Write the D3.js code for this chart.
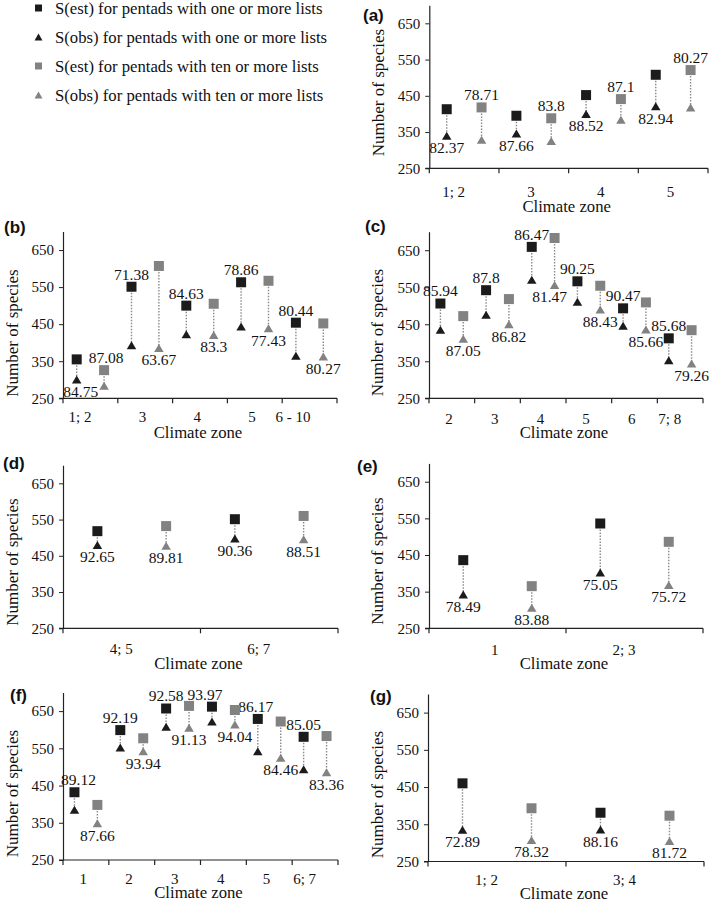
<!DOCTYPE html>
<html><head><meta charset="utf-8">
<script src="https://cdn.jsdelivr.net/npm/d3@7"></script>
<style>body{margin:0;background:#fff}svg{display:block}
.serif{font-family:"Liberation Serif","DejaVu Serif",serif}
.sans{font-family:"Liberation Sans","DejaVu Sans",sans-serif}
</style>
</head><body><svg id="chart" width="709" height="900"></svg>
<script>
// ---------- DATA ----------
const legendLabels = [
  "S(est) for pentads with one or more lists",
  "S(obs) for pentads with one or more lists",
  "S(est) for pentads with ten or more lists",
  "S(obs) for pentads with ten or more lists"
];
const yTickValues = [250, 350, 450, 550, 650];

const catsA = ["1; 2", "3", "4", "5"];
const estOneA = [413, 395, 452, 508];
const obsOneA = [340, 346, 400, 421];
const estTenA = [418, 388, 441, 521];
const obsTenA = [329, 325, 384, 418];
const pctOneA = ["82.37", "87.66", "88.52", "82.94"];
const pctTenA = ["78.71", "83.8", "87.1", "80.27"];

const catsB = ["1; 2", "3", "4", "5", "6 - 10"];
const estOneB = [355, 551, 500, 563, 454];
const obsOneB = [301, 393, 423, 444, 365];
const estTenB = [326, 607, 505, 567, 452];
const obsTenB = [284, 386, 421, 439, 363];
const pctOneB = ["84.75", "71.38", "84.63", "78.86", "80.44"];
const pctTenB = ["87.08", "63.67", "83.3", "77.43", "80.27"];

const catsC = ["2", "3", "4", "5", "6", "7; 8"];
const estOneC = [506, 542, 659, 566, 493, 412];
const obsOneC = [435, 476, 570, 511, 446, 353];
const estTenC = [472, 518, 683, 554, 509, 434];
const obsTenC = [411, 450, 556, 490, 436, 344];
const pctOneC = ["85.94", "87.8", "86.47", "90.25", "90.47", "85.68"];
const pctTenC = ["87.05", "86.82", "81.47", "88.43", "85.66", "79.26"];

const catsD = ["4; 5", "6; 7"];
const estOneD = [518, 551];
const obsOneD = [480, 498];
const estTenD = [532, 560];
const obsTenD = [478, 496];
const pctOneD = ["92.65", "90.36"];
const pctTenD = ["89.81", "88.51"];

const catsE = ["1", "2; 3"];
const estOneE = [436, 536];
const obsOneE = [342, 402];
const estTenE = [365, 486];
const obsTenE = [306, 368];
const pctOneE = ["78.49", "75.05"];
const pctTenE = ["83.88", "75.72"];

const catsF = ["1", "2", "3", "4", "5", "6; 7"];
const estOneF = [432, 599, 657, 662, 629, 581];
const obsOneF = [385, 552, 608, 622, 542, 494];
const estTenF = [398, 577, 664, 653, 622, 583];
const obsTenF = [349, 542, 605, 614, 525, 486];
const pctOneF = ["89.12", "92.19", "92.58", "93.97", "86.17", "85.05"];
const pctTenF = ["87.66", "93.94", "91.13", "94.04", "84.46", "83.36"];

const catsG = ["1; 2", "3; 4"];
const estOneG = [460, 381];
const obsOneG = [335, 336];
const estTenG = [393, 373];
const obsTenG = [308, 305];
const pctOneG = ["72.89", "88.16"];
const pctTenG = ["78.32", "81.72"];

// ---------- LAYOUT ----------
const COL_BLACK = "#1b1b1b", COL_GREY = "#828282", COL_LINE = "#8a8a8a", COL_TEXT = "#111";

// pos: a = label above the square, b = label below the triangle; nudge = small horizontal label shift (px)
const panels = [
  {id:"(a)", cats:catsA, e1:estOneA, o1:obsOneA, e10:estTenA, o10:obsTenA, p1:pctOneA, p10:pctTenA,
   pos1:"bbbb", pos10:"aaaa", nudge1:[0,0,0,0], nudge10:[0,0,0,0],
   x0:429.3, x1:708, yTop:5.2, yBot:168.3, tickY:191.7, titleY:206, letter:[363,15], ytitle:[378,92.5]},
  {id:"(b)", cats:catsB, e1:estOneB, o1:obsOneB, e10:estTenB, o10:obsTenB, p1:pctOneB, p10:pctTenB,
   pos1:"baaaa", pos10:"abbbb", nudge1:[4,0,0,0,0], nudge10:[2,0,0,0,0],
   x0:63, x1:337, yTop:231.5, yBot:398.3, tickY:416.7, titleY:431.7, letter:[4,227], ytitle:[12,333]},
  {id:"(c)", cats:catsC, e1:estOneC, o1:obsOneC, e10:estTenC, o10:obsTenC, p1:pctOneC, p10:pctTenC,
   pos1:"aaaaaa", pos10:"bbbbbb", nudge1:[0,0,0,0,0,0], nudge10:[0,0,-5,0,0,0],
   x0:429, x1:703, yTop:231.7, yBot:398.3, tickY:418.3, titleY:431.7, letter:[365,226.5], ytitle:[377,332.5]},
  {id:"(d)", cats:catsD, e1:estOneD, o1:obsOneD, e10:estTenD, o10:obsTenD, p1:pctOneD, p10:pctTenD,
   pos1:"bb", pos10:"bb", nudge1:[0,0], nudge10:[0,0],
   x0:63, x1:338, yTop:465.2, yBot:628.3, tickY:648.3, titleY:663.3, letter:[3,463], ytitle:[12,562]},
  {id:"(e)", cats:catsE, e1:estOneE, o1:obsOneE, e10:estTenE, o10:obsTenE, p1:pctOneE, p10:pctTenE,
   pos1:"bb", pos10:"bb", nudge1:[0,0], nudge10:[0,0],
   x0:429, x1:703, yTop:463.4, yBot:628.3, tickY:650, titleY:662.7, letter:[357,466], ytitle:[377,561]},
  {id:"(f)", cats:catsF, e1:estOneF, o1:obsOneF, e10:estTenF, o10:obsTenF, p1:pctOneF, p10:pctTenF,
   pos1:"aaaaaa", pos10:"bbbbbb", nudge1:[4,0,0,-7,-2,0], nudge10:[0,0,0,0,0,0],
   x0:63, x1:338, yTop:692.5, yBot:860, tickY:878.3, titleY:891.7, letter:[10,695], ytitle:[12,793.5]},
  {id:"(g)", cats:catsG, e1:estOneG, o1:obsOneG, e10:estTenG, o10:obsTenG, p1:pctOneG, p10:pctTenG,
   pos1:"bb", pos10:"bb", nudge1:[0,0], nudge10:[0,0],
   x0:428, x1:704, yTop:694, yBot:861.5, tickY:880, titleY:893.5, letter:[370,696], ytitle:[377,794.5]}
];

const svg = d3.select("#chart");
const SQ = 10, TW = 9.5, TH = 8;
const squarePath = (s) => `M${-s/2},${-s/2}h${s}v${s}h${-s}Z`;
const triPath = (w, h) => `M0,${-h/2}L${w/2},${h/2}L${-w/2},${h/2}Z`;

// ---------- LEGEND ----------
const legend = svg.append("g");
const legendItems = legendLabels.map((t, i) => ({t, i}));
const legY = d3.scalePoint().domain(d3.range(4)).range([8, 95]);
const lg = legend.selectAll("g").data(legendItems).join("g")
  .attr("transform", d => `translate(38.5,${legY(d.i)})`);
lg.append("path")
  .attr("d", d => d.i % 2 === 0 ? squarePath(7) : triPath(8, 7))
  .attr("fill", d => d.i < 2 ? COL_BLACK : COL_GREY);
lg.append("text").attr("class", "serif").attr("x", 16.5).attr("dy", "0.35em")
  .attr("font-size", 16.7).attr("fill", COL_TEXT)
  .text(d => d.t);

// ---------- PANELS ----------
panels.forEach(p => {
  const g = svg.append("g");
  const y = d3.scaleLinear().domain([250, 700]).range([p.yBot, p.yTop]);
  const x = d3.scaleBand().domain(p.cats).range([p.x0, p.x1]).padding(0);
  const bw = x.bandwidth();

  // y axis
  const ya = g.append("g").attr("transform", `translate(${p.x0},0)`)
    .call(d3.axisLeft(y).tickValues(yTickValues).tickSize(4).tickSizeOuter(0).tickPadding(5).tickFormat(d3.format("d")));
  ya.select(".domain").attr("stroke", "#222").attr("stroke-width", 1.2);
  ya.selectAll(".tick line").attr("stroke", "#222");
  ya.selectAll("text").attr("class", "serif").attr("font-family", null).attr("font-size", 15).attr("fill", COL_TEXT);

  // x axis line + boundary ticks
  g.append("line").attr("x1", p.x0 - 4).attr("x2", p.x1).attr("y1", p.yBot).attr("y2", p.yBot)
    .attr("stroke", "#222").attr("stroke-width", 1.2);
  const bounds = p.cats.map(c => x(c)).concat([p.x1]);
  g.selectAll(".bt").data(bounds).join("line")
    .attr("x1", d => d).attr("x2", d => d).attr("y1", p.yBot).attr("y2", p.yBot + 5)
    .attr("stroke", "#222").attr("stroke-width", 1.2);
  // x tick labels
  g.selectAll(".xl").data(p.cats).join("text").attr("class", "serif")
    .attr("x", d => x(d) + bw / 2 + 1).attr("y", p.tickY).attr("dy", "0.35em")
    .attr("text-anchor", "end")
    .attr("font-size", 15).attr("fill", COL_TEXT)
    .text(d => d);

  // axis titles
  g.append("text").attr("class", "serif").attr("x", (p.x0 + p.x1) / 2 - 2).attr("y", p.titleY).attr("dy", "0.35em")
    .attr("text-anchor", "middle").attr("font-size", 16.7).attr("fill", COL_TEXT)
    .text("Climate zone");
  g.append("text").attr("class", "serif").attr("transform", `translate(${p.ytitle[0]},${p.ytitle[1]}) rotate(-90)`)
    .attr("dy", "0.35em").attr("text-anchor", "middle")
    .attr("font-size", 17).attr("fill", COL_TEXT)
    .text("Number of species");
  g.append("text").attr("class", "sans").attr("x", p.letter[0]).attr("y", p.letter[1]).attr("dy", "0.35em")
    .attr("font-weight", "bold").attr("font-size", 17).attr("fill", COL_TEXT)
    .text(p.id);

  // series
  const series = [
    {est:p.e1, obs:p.o1, pct:p.p1, pos:p.pos1, nudge:p.nudge1, off:0.25, col:COL_BLACK},
    {est:p.e10, obs:p.o10, pct:p.p10, pos:p.pos10, nudge:p.nudge10, off:0.75, col:COL_GREY}
  ];
  series.forEach(s => {
    const pts = p.cats.map((c, i) => ({c, est:s.est[i], obs:s.obs[i], pct:s.pct[i], pos:s.pos[i], nd:s.nudge[i]}));
    const cx = d => x(d.c) + bw * s.off;
    g.selectAll(null).data(pts).join("line")
      .attr("x1", cx).attr("x2", cx).attr("y1", d => y(d.est)).attr("y2", d => y(d.obs))
      .attr("stroke", COL_LINE).attr("stroke-width", 1.4).attr("stroke-dasharray", "1.5,1.5");
    g.selectAll(null).data(pts).join("path")
      .attr("transform", d => `translate(${cx(d)},${y(d.est)})`)
      .attr("d", squarePath(SQ)).attr("fill", s.col);
    g.selectAll(null).data(pts).join("path")
      .attr("transform", d => `translate(${cx(d)},${y(d.obs)})`)
      .attr("d", triPath(TW, TH)).attr("fill", s.col);
    g.selectAll(null).data(pts).join("text").attr("class", "serif")
      .attr("x", d => cx(d) + d.nd)
      .attr("y", d => d.pos === "a" ? y(d.est) - 12.5 : y(d.obs) + 12)
      .attr("dy", "0.35em").attr("text-anchor", "middle")
      .attr("font-size", 15.5).attr("fill", COL_TEXT)
      .text(d => d.pct);
  });
});
</script>
</body></html>
